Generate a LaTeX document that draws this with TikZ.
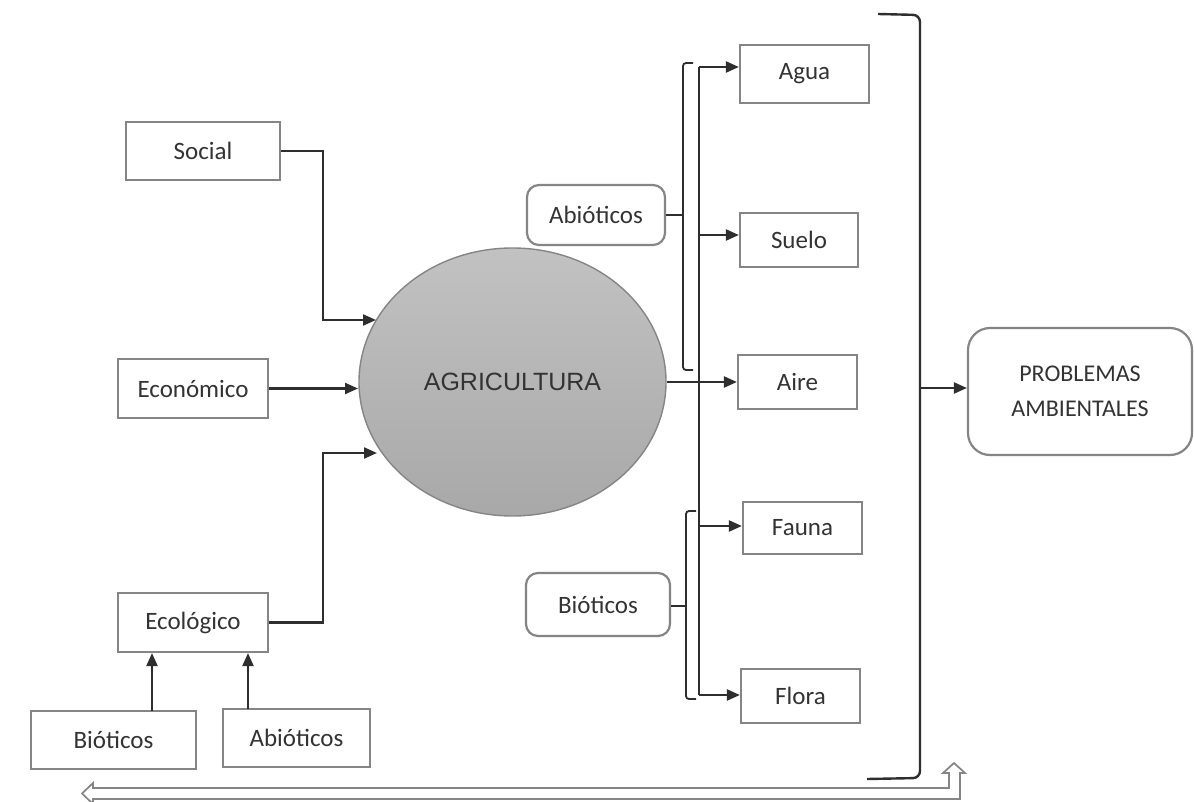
\documentclass[tikz,border=0pt]{standalone}
\usepackage{fontspec}
\setmainfont{Carlito}
\newfontfamily\arialf{Liberation Sans}
\usetikzlibrary{arrows.meta,calc,shapes.geometric}
\definecolor{linec}{HTML}{2E2E2E}
\definecolor{boxc}{HTML}{858585}
\definecolor{txtc}{HTML}{333333}
\begin{document}
\begin{tikzpicture}[x=1pt,y=-1pt,
  every node/.style={text=txtc, font=\fontsize{25}{30}\selectfont},
  sqbox/.style={draw=boxc, line width=2.2pt, fill=white, inner sep=0pt},
  rbox/.style={draw=boxc, line width=2.2pt, fill=white, inner sep=0pt, rounded corners=12pt},
  conn/.style={draw=linec, line width=2.2pt},
  arr/.style={conn, -{Triangle[length=13pt,width=11pt]}},
  hollow/.style={draw=boxc, line width=1.7pt, fill=white}
]
\useasboundingbox (0,0) rectangle (1194,802);
\fill[white] (0,0) rectangle (1194,802);

% left boxes
\node[sqbox, minimum width=154pt, minimum height=58pt] (social) at (203,151) {Social};
\node[sqbox, minimum width=150pt, minimum height=59pt] (econ) at (193,388.5) {Económico};
\node[sqbox, minimum width=150pt, minimum height=59pt] (ecol) at (193,622.5) {Ecológico};
\node[sqbox, minimum width=165pt, minimum height=58pt] (bio) at (113.5,740) {Bióticos};
\node[sqbox, minimum width=147pt, minimum height=58pt] (abio) at (296.5,738) {Abióticos};

% central ellipse
\node[ellipse, draw=boxc, line width=1.4pt, top color=black!24, bottom color=black!34,
      minimum width=307pt, minimum height=268pt, inner sep=0pt,
      font=\arialf\fontsize{25}{30}\selectfont] (agri) at (512.5,382) {AGRICULTURA};

% category boxes
\node[rbox, minimum width=138pt, minimum height=60pt] (abiot) at (596,215) {Abióticos};
\node[rbox, minimum width=144pt, minimum height=63pt] (biot) at (598,604.5) {Bióticos};

% right column
\node[sqbox, minimum width=129pt, minimum height=58pt] (agua) at (804.5,74) {Agua};
\node[sqbox, minimum width=118pt, minimum height=54pt] (suelo) at (799,240) {Suelo};
\node[sqbox, minimum width=119pt, minimum height=54pt] (aire) at (797.5,382) {Aire};
\node[sqbox, minimum width=119pt, minimum height=52pt] (fauna) at (802.5,528) {Fauna};
\node[sqbox, minimum width=119pt, minimum height=54pt] (flora) at (800.5,696) {Flora};

\node[rbox, rounded corners=22pt, minimum width=224pt, minimum height=127pt, align=center,
      font=\fontsize{24}{35}\selectfont] (prob) at (1080,391.5) {PROBLEMAS\\AMBIENTALES};

% left connectors
\coordinate (sc) at (323,320);
\coordinate (st) at (376,320);
\draw[arr] (social.east) -| (sc) -- (st);
\draw[arr] (econ.east) -- (358,388.5);
\coordinate (ec) at (323,453);
\coordinate (et) at (377,453);
\draw[arr] (ecol.east) -| (ec) -- (et);
\coordinate (b1) at (152,711);
\coordinate (b2) at (248,709);
\draw[arr] (b1) -- (b1 |- ecol.south);
\draw[arr] (b2) -- (b2 |- ecol.south);

% trunk and branches
\coordinate (t1) at (699,67);
\coordinate (t2) at (699,235);
\coordinate (t4) at (699,526);
\coordinate (t5) at (699,695);
\draw[conn] (t1) -- (t5);
\draw[arr] (t1) -- (t1 -| agua.west);
\draw[arr] (t2) -- (t2 -| suelo.west);
\draw[arr] (agri.east) -- (agri.east -| aire.west);
\draw[arr] (t4) -- (t4 -| fauna.west);
\draw[arr] (t5) -- (t5 -| flora.west);

% small brackets
\coordinate (ka) at (683,215);
\draw[conn, line width=1.8pt, rounded corners=3pt] (693,63) -- (683,63) -- (683,370) -- (693,370);
\draw[conn, line width=1.8pt] (abiot.east) -- (ka);
\coordinate (kb) at (686,606);
\draw[conn, line width=1.8pt, rounded corners=3pt] (696,511) -- (686,511) -- (686,699) -- (696,699);
\draw[conn, line width=1.8pt] (biot.east |- kb) -- (kb);

% big bracket
\draw[conn, line width=2.4pt, rounded corners=7pt] (878,14) -- (920,15) -- (920,778) -- (867,779);
\coordinate (bm) at (920,388);
\draw[arr] (bm) -- (bm -| prob.west);

% hollow feedback arrow
\coordinate (h1) at (954,763);
\coordinate (h2) at (82,793.5);
\draw[hollow, line join=miter] (h1) -- (965,773) -- (960,773) -- (960,799) -- (93,799) -- (93,804)
  -- (h2) -- (93,783) -- (93,788) -- (949,788) -- (949,773) -- (943,773) -- cycle;
\end{tikzpicture}
\end{document}
